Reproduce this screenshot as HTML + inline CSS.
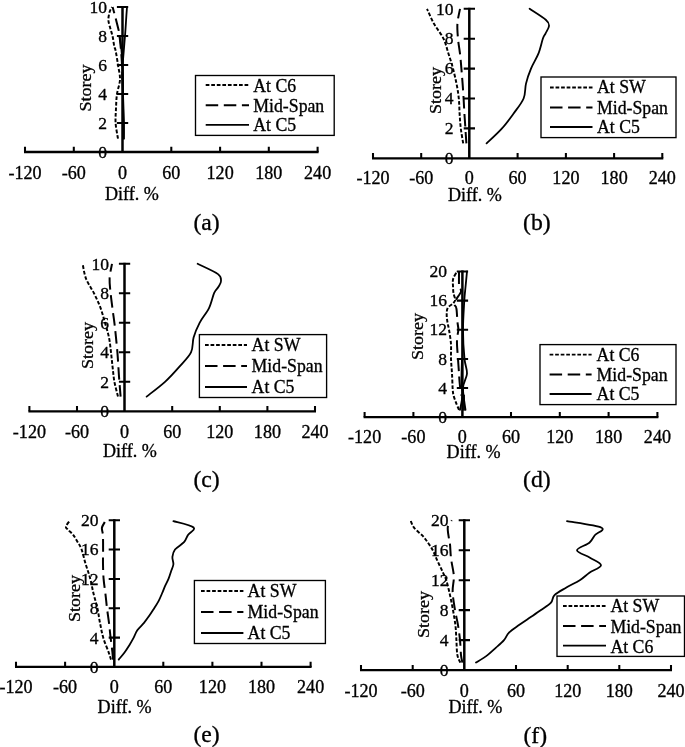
<!DOCTYPE html>
<html lang="en"><head><meta charset="utf-8"><title>Figure</title>
<style>html,body{margin:0;padding:0;background:#fff;}svg{display:block;}text{font-family:'Liberation Serif', serif;fill:#000;stroke:#000;stroke-width:0.32px;}</style></head><body>
<svg width="685" height="747" viewBox="0 0 685 747">
<rect width="685" height="747" fill="#fff"/>
<g>
<path d="M118.0 138.7 C117.6 136.1 115.9 128.0 115.6 123.0 C115.3 118.0 115.8 113.3 116.0 108.5 C116.2 103.7 116.3 98.8 117.0 94.0 C117.7 89.2 119.8 84.3 120.0 79.5 C120.2 74.7 118.7 69.8 118.0 65.0 C117.3 60.2 116.2 53.6 115.6 50.5 C115.0 47.4 114.7 48.6 114.2 46.2 C113.7 43.7 113.2 39.0 112.5 36.0 C111.8 33.0 110.9 30.7 110.2 28.0 C109.5 25.4 108.5 22.7 108.4 20.1 C108.3 17.4 109.0 14.2 109.6 12.1 C110.2 9.9 111.6 7.8 112.0 7.0" fill="none" stroke="#000" stroke-width="1.95" stroke-dasharray="3.7 1.85"/>
<path d="M112.6 7.0 C112.9 8.0 113.7 11.0 114.2 12.8 C114.7 14.6 114.9 15.2 115.6 18.0 C116.3 20.9 117.9 26.9 118.6 29.9 C119.2 32.9 119.1 32.6 119.5 36.0 C119.9 39.4 120.6 45.7 121.0 50.5 C121.4 55.3 121.8 60.2 122.0 65.0 C122.2 69.8 122.4 77.1 122.5 79.5" fill="none" stroke="#000" stroke-width="2" stroke-dasharray="12.5 5.6" stroke-dashoffset="6.1"/>
<path d="M124.0 138.7 C124.0 136.1 124.1 128.0 124.0 123.0 C123.9 118.0 123.7 113.3 123.5 108.5 C123.3 103.7 123.2 98.8 123.0 94.0 C122.8 89.2 122.5 84.3 122.5 79.5 C122.5 74.7 122.5 69.8 122.7 65.0 C122.9 60.2 123.4 55.3 123.8 50.5 C124.2 45.7 124.6 40.8 125.0 36.0 C125.4 31.2 125.7 26.3 126.0 21.5 C126.3 16.7 126.8 9.4 127.0 7.0" fill="none" stroke="#000" stroke-width="1.8" stroke-linecap="round"/>
<path d="M123.0 138.7 C123.0 128.8 123.2 94.2 123.0 79.5 C122.8 64.8 122.1 57.8 121.5 50.5 C120.9 43.2 119.9 38.4 119.6 36.0" fill="none" stroke="#000" stroke-width="1.8" stroke-linecap="round"/>
<path d="M24.0 152.0H318.6" stroke="#000" stroke-width="2.3" fill="none"/>
<path d="M25.0 152.0V146.8M73.8 152.0V146.8M171.3 152.0V146.8M220.1 152.0V146.8M268.8 152.0V146.8M317.6 152.0V146.8" stroke="#000" stroke-width="2.05" fill="none"/>
<path d="M122.5 152.0V6.0" stroke="#000" stroke-width="2.5" fill="none"/>
<path d="M116.9 123.0H128.2M116.9 94.0H128.2M116.9 65.0H128.2M116.9 36.0H128.2M116.9 7.0H128.2" stroke="#000" stroke-width="2.05" fill="none"/>
<text transform="translate(25.0 179.3) scale(1 1.030)" font-size="18.10" text-anchor="middle">-120</text>
<text transform="translate(73.8 179.3) scale(1 1.030)" font-size="18.10" text-anchor="middle">-60</text>
<text transform="translate(122.5 179.3) scale(1 1.030)" font-size="18.10" text-anchor="middle">0</text>
<text transform="translate(171.3 179.3) scale(1 1.030)" font-size="18.10" text-anchor="middle">60</text>
<text transform="translate(220.1 179.3) scale(1 1.030)" font-size="18.10" text-anchor="middle">120</text>
<text transform="translate(268.8 179.3) scale(1 1.030)" font-size="18.10" text-anchor="middle">180</text>
<text transform="translate(317.6 179.3) scale(1 1.030)" font-size="18.10" text-anchor="middle">240</text>
<text transform="translate(105.0 200.2) scale(1 1.040)" font-size="18.10">Diff. %</text>
<text transform="translate(107.0 157.7) scale(1 0.980)" font-size="17.60" text-anchor="end">0</text>
<text transform="translate(107.0 128.7) scale(1 0.980)" font-size="17.60" text-anchor="end">2</text>
<text transform="translate(107.0 99.7) scale(1 0.980)" font-size="17.60" text-anchor="end">4</text>
<text transform="translate(107.0 70.7) scale(1 0.980)" font-size="17.60" text-anchor="end">6</text>
<text transform="translate(107.0 41.7) scale(1 0.980)" font-size="17.60" text-anchor="end">8</text>
<text transform="translate(107.0 12.7) scale(1 0.980)" font-size="17.60" text-anchor="end">10</text>
<text transform="translate(90.5 88.0) rotate(-90) scale(1 0.920)" font-size="18.10" text-anchor="middle">Storey</text>
<rect x="195.5" y="75.5" width="138.7" height="59.9" fill="#fff" stroke="#000" stroke-width="1.35"/>
<path d="M205.7 85.0H249.0" stroke="#000" fill="none" stroke-width="1.95" stroke-dasharray="3.7 1.85"/>
<text transform="translate(253.3 91.9) scale(1 1.030)" font-size="17.75">At C6</text>
<path d="M205.7 105.2H249.0" stroke="#000" fill="none" stroke-width="2" stroke-dasharray="12.5 5.6"/>
<text transform="translate(253.3 111.7) scale(1 1.030)" font-size="17.75">Mid-Span</text>
<path d="M205.7 124.8H249.0" stroke="#000" fill="none" stroke-width="1.8"/>
<text transform="translate(253.3 131.2) scale(1 1.030)" font-size="17.75">At C5</text>
<text transform="translate(193.4 229.8) scale(1 0.970)" font-size="23.70">(a)</text>
</g>
<g>
<path d="M463.2 143.4 C462.8 140.9 461.4 133.4 460.8 128.4 C460.2 123.4 459.9 118.4 459.6 113.5 C459.3 108.5 459.3 103.5 458.8 98.5 C458.3 93.5 457.5 88.5 456.5 83.6 C455.5 78.6 454.3 73.6 453.0 68.6 C451.7 63.6 450.1 58.6 448.5 53.7 C446.9 48.7 445.9 43.7 443.5 38.7 C441.1 33.7 436.8 28.7 434.0 23.8 C431.2 18.8 428.2 11.3 427.0 8.8" fill="none" stroke="#000" stroke-width="1.95" stroke-dasharray="3.7 1.85"/>
<path d="M460.0 8.8 C459.6 11.3 457.7 18.8 457.4 23.8 C457.1 28.7 457.6 33.7 458.0 38.7 C458.4 43.7 459.4 48.7 460.0 53.7 C460.6 58.6 461.0 63.6 461.4 68.6 C461.8 73.6 462.2 78.6 462.6 83.6 C463.0 88.5 463.3 93.5 463.6 98.5 C463.9 103.5 464.1 108.5 464.4 113.5 C464.7 118.4 465.1 123.4 465.4 128.4 C465.7 133.4 466.2 140.9 466.4 143.4" fill="none" stroke="#000" stroke-width="2" stroke-dasharray="12.5 5.6" stroke-dashoffset="2.8"/>
<path d="M486.6 143.4 C489.2 140.9 497.5 133.4 502.0 128.4 C506.5 123.4 510.0 118.4 513.6 113.5 C517.2 108.5 521.5 103.5 523.6 98.5 C525.7 93.5 524.8 88.5 526.0 83.6 C527.2 78.6 528.9 73.6 531.0 68.6 C533.1 63.6 536.4 58.7 538.4 53.7 C540.4 48.6 541.8 41.6 543.0 38.3 C544.2 34.9 544.6 35.4 545.6 33.3 C546.6 31.3 548.9 28.2 549.0 26.0 C549.1 23.8 549.2 22.9 546.0 20.0 C542.8 17.1 532.3 10.7 529.6 8.8" fill="none" stroke="#000" stroke-width="1.8" stroke-linecap="round"/>
<path d="M372.0 158.3H663.3" stroke="#000" stroke-width="2.3" fill="none"/>
<path d="M373.0 158.3V153.1M421.2 158.3V153.1M517.6 158.3V153.1M565.9 158.3V153.1M614.1 158.3V153.1M662.3 158.3V153.1" stroke="#000" stroke-width="2.05" fill="none"/>
<path d="M469.3 158.3V7.8" stroke="#000" stroke-width="2.5" fill="none"/>
<path d="M463.7 128.4H475.0M463.7 98.5H475.0M463.7 68.6H475.0M463.7 38.7H475.0M463.7 8.8H475.0" stroke="#000" stroke-width="2.05" fill="none"/>
<text transform="translate(373.0 184.3) scale(1 1.030)" font-size="18.10" text-anchor="middle">-120</text>
<text transform="translate(421.2 184.3) scale(1 1.030)" font-size="18.10" text-anchor="middle">-60</text>
<text transform="translate(469.4 184.3) scale(1 1.030)" font-size="18.10" text-anchor="middle">0</text>
<text transform="translate(517.6 184.3) scale(1 1.030)" font-size="18.10" text-anchor="middle">60</text>
<text transform="translate(565.9 184.3) scale(1 1.030)" font-size="18.10" text-anchor="middle">120</text>
<text transform="translate(614.1 184.3) scale(1 1.030)" font-size="18.10" text-anchor="middle">180</text>
<text transform="translate(662.3 184.3) scale(1 1.030)" font-size="18.10" text-anchor="middle">240</text>
<text transform="translate(448.0 200.8) scale(1 1.040)" font-size="18.10">Diff. %</text>
<text transform="translate(453.6 164.0) scale(1 0.980)" font-size="17.60" text-anchor="end">0</text>
<text transform="translate(453.6 134.1) scale(1 0.980)" font-size="17.60" text-anchor="end">2</text>
<text transform="translate(453.6 104.2) scale(1 0.980)" font-size="17.60" text-anchor="end">4</text>
<text transform="translate(453.6 74.3) scale(1 0.980)" font-size="17.60" text-anchor="end">6</text>
<text transform="translate(453.6 44.4) scale(1 0.980)" font-size="17.60" text-anchor="end">8</text>
<text transform="translate(453.6 14.5) scale(1 0.980)" font-size="17.60" text-anchor="end">10</text>
<text transform="translate(441.0 90.5) rotate(-90) scale(1 0.920)" font-size="18.10" text-anchor="middle">Storey</text>
<rect x="541.0" y="77.0" width="135.0" height="60.6" fill="#fff" stroke="#000" stroke-width="1.35"/>
<path d="M550.0 87.4H592.5" stroke="#000" fill="none" stroke-width="1.95" stroke-dasharray="3.7 1.85"/>
<text transform="translate(597.0 93.1) scale(1 1.030)" font-size="17.75">At SW</text>
<path d="M550.0 107.4H592.5" stroke="#000" fill="none" stroke-width="2" stroke-dasharray="12.5 5.6"/>
<text transform="translate(597.0 113.5) scale(1 1.030)" font-size="17.75">Mid-Span</text>
<path d="M550.0 127.0H592.5" stroke="#000" fill="none" stroke-width="1.8"/>
<text transform="translate(597.0 133.1) scale(1 1.030)" font-size="17.75">At C5</text>
<text transform="translate(523.0 229.8) scale(1 0.970)" font-size="23.70">(b)</text>
</g>
<g>
<path d="M118.0 396.6 C117.4 394.1 115.3 386.7 114.4 381.8 C113.5 376.9 113.2 372.0 112.6 367.1 C112.0 362.1 111.6 357.2 111.0 352.3 C110.4 347.4 110.0 342.5 109.0 337.6 C108.0 332.6 106.4 327.7 105.0 322.8 C103.6 317.9 102.4 313.0 100.6 308.1 C98.8 303.1 96.4 298.2 94.0 293.3 C91.6 288.4 87.9 283.5 86.0 278.6 C84.1 273.6 83.2 266.3 82.6 263.8" fill="none" stroke="#000" stroke-width="1.95" stroke-dasharray="3.7 1.85"/>
<path d="M112.0 263.8 C111.6 266.3 109.8 273.6 109.6 278.6 C109.4 283.5 110.1 288.4 110.6 293.3 C111.1 298.2 111.8 303.1 112.4 308.1 C113.0 313.0 113.8 317.9 114.4 322.8 C115.0 327.7 115.5 332.6 116.0 337.6 C116.5 342.5 117.0 347.4 117.4 352.3 C117.8 357.2 118.1 362.1 118.4 367.1 C118.7 372.0 119.0 376.9 119.4 381.8 C119.8 386.7 120.4 394.1 120.6 396.6" fill="none" stroke="#000" stroke-width="2" stroke-dasharray="12.5 5.6" stroke-dashoffset="4.5"/>
<path d="M146.6 396.6 C149.7 394.1 159.6 386.7 165.0 381.8 C170.4 376.9 174.7 372.0 179.0 367.1 C183.3 362.1 188.6 357.2 191.0 352.3 C193.4 347.4 192.2 342.5 193.6 337.6 C195.0 332.6 197.0 327.7 199.6 322.8 C202.2 317.9 206.6 313.0 209.0 308.1 C211.4 303.1 212.6 296.4 214.2 292.9 C215.8 289.3 217.2 288.9 218.3 287.0 C219.4 285.0 221.1 283.2 221.0 281.1 C220.9 278.9 221.9 277.0 218.0 274.1 C214.1 271.2 201.0 265.5 197.6 263.8" fill="none" stroke="#000" stroke-width="1.8" stroke-linecap="round"/>
<path d="M28.4 411.3H316.0" stroke="#000" stroke-width="2.3" fill="none"/>
<path d="M29.4 411.3V406.1M77.0 411.3V406.1M172.2 411.3V406.1M219.8 411.3V406.1M267.4 411.3V406.1M315.0 411.3V406.1" stroke="#000" stroke-width="2.05" fill="none"/>
<path d="M124.5 411.3V262.8" stroke="#000" stroke-width="2.5" fill="none"/>
<path d="M118.9 381.8H130.2M118.9 352.3H130.2M118.9 322.8H130.2M118.9 293.3H130.2M118.9 263.8H130.2" stroke="#000" stroke-width="2.05" fill="none"/>
<text transform="translate(29.4 437.9) scale(1 1.030)" font-size="18.10" text-anchor="middle">-120</text>
<text transform="translate(77.0 437.9) scale(1 1.030)" font-size="18.10" text-anchor="middle">-60</text>
<text transform="translate(124.6 437.9) scale(1 1.030)" font-size="18.10" text-anchor="middle">0</text>
<text transform="translate(172.2 437.9) scale(1 1.030)" font-size="18.10" text-anchor="middle">60</text>
<text transform="translate(219.8 437.9) scale(1 1.030)" font-size="18.10" text-anchor="middle">120</text>
<text transform="translate(267.4 437.9) scale(1 1.030)" font-size="18.10" text-anchor="middle">180</text>
<text transform="translate(315.0 437.9) scale(1 1.030)" font-size="18.10" text-anchor="middle">240</text>
<text transform="translate(103.0 456.8) scale(1 1.040)" font-size="18.10">Diff. %</text>
<text transform="translate(109.0 417.0) scale(1 0.980)" font-size="17.60" text-anchor="end">0</text>
<text transform="translate(109.0 387.5) scale(1 0.980)" font-size="17.60" text-anchor="end">2</text>
<text transform="translate(109.0 358.0) scale(1 0.980)" font-size="17.60" text-anchor="end">4</text>
<text transform="translate(109.0 328.5) scale(1 0.980)" font-size="17.60" text-anchor="end">6</text>
<text transform="translate(109.0 299.0) scale(1 0.980)" font-size="17.60" text-anchor="end">8</text>
<text transform="translate(109.0 269.5) scale(1 0.980)" font-size="17.60" text-anchor="end">10</text>
<text transform="translate(93.0 345.5) rotate(-90) scale(1 0.920)" font-size="18.10" text-anchor="middle">Storey</text>
<rect x="199.4" y="334.6" width="127.2" height="62.9" fill="#fff" stroke="#000" stroke-width="1.35"/>
<path d="M205.0 345.0H247.0" stroke="#000" fill="none" stroke-width="1.95" stroke-dasharray="3.7 1.85"/>
<text transform="translate(251.6 350.5) scale(1 1.030)" font-size="17.75">At SW</text>
<path d="M205.0 366.0H247.0" stroke="#000" fill="none" stroke-width="2" stroke-dasharray="12.5 5.6"/>
<text transform="translate(251.6 371.9) scale(1 1.030)" font-size="17.75">Mid-Span</text>
<path d="M205.0 387.0H247.0" stroke="#000" fill="none" stroke-width="1.8"/>
<text transform="translate(251.6 392.9) scale(1 1.030)" font-size="17.75">At C5</text>
<text transform="translate(193.4 486.8) scale(1 0.970)" font-size="23.70">(c)</text>
</g>
<g>
<path d="M459.0 409.9 C458.5 408.7 456.9 405.1 456.0 402.6 C455.1 400.2 454.1 397.8 453.5 395.3 C452.9 392.9 452.9 391.7 452.6 388.0 C452.4 384.4 452.3 378.3 452.0 373.5 C451.7 368.6 451.2 363.7 451.0 358.9 C450.8 354.0 451.3 349.2 451.0 344.3 C450.7 339.4 449.6 333.4 449.0 329.7 C448.4 326.1 447.9 324.9 447.5 322.4 C447.1 320.0 446.7 317.6 446.7 315.1 C446.7 312.7 446.6 309.8 447.7 307.9 C448.8 305.9 451.8 304.8 453.0 303.5 C454.2 302.1 455.1 301.5 455.2 299.8 C455.3 298.1 453.9 295.6 453.5 293.3 C453.1 291.0 453.1 288.4 453.0 286.0 C452.9 283.6 452.5 281.1 453.2 278.7 C453.9 276.3 456.4 272.6 457.0 271.4" fill="none" stroke="#000" stroke-width="1.95" stroke-dasharray="3.7 1.85"/>
<path d="M459.0 271.4 C459.0 273.8 458.9 283.2 459.0 286.0 C459.1 288.8 459.0 287.2 459.3 288.2 C459.6 289.1 461.8 289.4 461.0 291.8 C460.2 294.2 455.1 300.1 454.3 302.7 C453.5 305.4 455.9 305.8 456.3 307.9 C456.8 309.9 456.8 312.7 457.0 315.1 C457.2 317.6 457.3 320.0 457.5 322.4 C457.7 324.9 458.4 327.3 458.4 329.7 C458.3 332.1 457.4 334.6 457.2 337.0 C457.0 339.4 456.9 340.7 457.0 344.3 C457.1 347.9 457.7 354.0 458.0 358.9 C458.3 363.7 458.8 369.8 459.0 373.5 C459.2 377.1 459.2 377.1 459.5 380.8 C459.8 384.4 460.8 392.9 461.0 395.3" fill="none" stroke="#000" stroke-width="2" stroke-dasharray="12.5 5.6" stroke-dashoffset="0.0"/>
<path d="M465.5 409.9 C465.1 406.3 462.8 394.1 463.0 388.0 C463.2 382.0 466.8 378.3 467.0 373.5 C467.2 368.6 465.2 366.2 464.5 358.9 C463.8 351.6 463.0 339.4 463.0 329.7 C463.0 320.0 463.9 307.9 464.3 300.6 C464.7 293.3 465.2 290.8 465.6 286.0 C466.1 281.1 466.8 273.8 467.0 271.4" fill="none" stroke="#000" stroke-width="1.8" stroke-linecap="round"/>
<path d="M460.0 409.9 C460.4 407.5 462.2 400.2 462.5 395.3 C462.8 390.5 461.6 386.8 461.5 380.8 C461.4 374.7 461.9 362.5 462.0 358.9" fill="none" stroke="#000" stroke-width="1.8" stroke-linecap="round"/>
<path d="M464.0 409.9 C464.0 407.5 464.0 397.8 464.0 395.3" fill="none" stroke="#000" stroke-width="1.8" stroke-linecap="round"/>
<path d="M363.6 417.2H658.4" stroke="#000" stroke-width="2.3" fill="none"/>
<path d="M364.6 417.2V412.0M413.4 417.2V412.0M511.0 417.2V412.0M559.8 417.2V412.0M608.6 417.2V412.0M657.4 417.2V412.0" stroke="#000" stroke-width="2.05" fill="none"/>
<path d="M462.4 417.2V270.4" stroke="#000" stroke-width="2.5" fill="none"/>
<path d="M456.8 388.0H468.1M456.8 358.9H468.1M456.8 329.7H468.1M456.8 300.6H468.1M456.8 271.4H468.1" stroke="#000" stroke-width="2.05" fill="none"/>
<text transform="translate(364.6 443.3) scale(1 1.030)" font-size="18.10" text-anchor="middle">-120</text>
<text transform="translate(413.4 443.3) scale(1 1.030)" font-size="18.10" text-anchor="middle">-60</text>
<text transform="translate(462.2 443.3) scale(1 1.030)" font-size="18.10" text-anchor="middle">0</text>
<text transform="translate(511.0 443.3) scale(1 1.030)" font-size="18.10" text-anchor="middle">60</text>
<text transform="translate(559.8 443.3) scale(1 1.030)" font-size="18.10" text-anchor="middle">120</text>
<text transform="translate(608.6 443.3) scale(1 1.030)" font-size="18.10" text-anchor="middle">180</text>
<text transform="translate(657.4 443.3) scale(1 1.030)" font-size="18.10" text-anchor="middle">240</text>
<text transform="translate(446.6 458.2) scale(1 1.040)" font-size="18.10">Diff. %</text>
<text transform="translate(447.0 422.9) scale(1 0.980)" font-size="17.60" text-anchor="end">0</text>
<text transform="translate(447.0 393.7) scale(1 0.980)" font-size="17.60" text-anchor="end">4</text>
<text transform="translate(447.0 364.6) scale(1 0.980)" font-size="17.60" text-anchor="end">8</text>
<text transform="translate(447.0 335.4) scale(1 0.980)" font-size="17.60" text-anchor="end">12</text>
<text transform="translate(447.0 306.3) scale(1 0.980)" font-size="17.60" text-anchor="end">16</text>
<text transform="translate(447.0 277.1) scale(1 0.980)" font-size="17.60" text-anchor="end">20</text>
<text transform="translate(423.0 336.5) rotate(-90) scale(1 0.920)" font-size="18.10" text-anchor="middle">Storey</text>
<rect x="540.0" y="344.6" width="136.0" height="60.0" fill="#fff" stroke="#000" stroke-width="1.35"/>
<path d="M549.6 354.6H591.6" stroke="#000" fill="none" stroke-width="1.95" stroke-dasharray="3.7 1.85"/>
<text transform="translate(596.6 360.5) scale(1 1.030)" font-size="17.75">At C6</text>
<path d="M549.6 374.6H591.6" stroke="#000" fill="none" stroke-width="2" stroke-dasharray="12.5 5.6"/>
<text transform="translate(596.6 380.5) scale(1 1.030)" font-size="17.75">Mid-Span</text>
<path d="M549.6 394.0H591.6" stroke="#000" fill="none" stroke-width="1.8"/>
<text transform="translate(596.6 400.1) scale(1 1.030)" font-size="17.75">At C5</text>
<text transform="translate(523.0 486.8) scale(1 0.970)" font-size="23.70">(d)</text>
</g>
<g>
<path d="M111.0 659.6 C110.6 658.3 109.9 655.9 108.6 652.2 C107.3 648.6 104.6 642.4 103.2 637.6 C101.8 632.7 101.0 627.8 100.0 622.9 C99.0 618.0 98.5 613.1 97.4 608.2 C96.3 603.3 94.7 598.4 93.5 593.5 C92.3 588.7 91.6 583.8 90.3 578.9 C89.0 574.0 87.2 569.1 85.7 564.2 C84.2 559.3 82.9 553.2 81.6 549.5 C80.3 545.9 79.1 544.6 77.7 542.2 C76.3 539.8 74.8 536.9 73.2 534.9 C71.6 532.8 69.2 531.1 68.0 529.7 C66.8 528.4 65.7 528.2 65.9 526.8 C66.1 525.4 68.7 522.2 69.3 521.3" fill="none" stroke="#000" stroke-width="1.95" stroke-dasharray="3.7 1.85"/>
<path d="M104.8 522.0 C104.3 523.0 102.2 525.8 101.9 527.9 C101.6 530.0 102.7 531.3 102.9 534.9 C103.1 538.5 103.1 544.6 103.1 549.5 C103.1 554.4 102.9 559.3 103.0 564.2 C103.1 569.1 103.2 574.0 103.6 578.9 C104.0 583.8 104.8 588.7 105.4 593.5 C106.0 598.4 106.4 603.3 107.0 608.2 C107.6 613.1 108.4 618.0 109.0 622.9 C109.6 627.8 110.0 632.7 110.6 637.6 C111.2 642.4 112.0 648.6 112.4 652.2 C112.8 655.9 112.9 658.3 113.0 659.6" fill="none" stroke="#000" stroke-width="2" stroke-dasharray="12.5 5.6" stroke-dashoffset="0.0"/>
<path d="M118.7 659.6 C119.7 658.3 122.9 654.7 124.7 652.2 C126.5 649.8 128.0 647.3 129.5 644.9 C131.0 642.4 132.4 640.0 133.7 637.6 C135.0 635.1 135.6 632.7 137.3 630.2 C139.0 627.8 142.0 625.3 144.0 622.9 C146.0 620.4 147.7 618.0 149.4 615.6 C151.1 613.1 152.6 610.7 154.2 608.2 C155.8 605.8 157.4 603.3 158.7 600.9 C160.0 598.4 160.9 596.0 162.0 593.5 C163.1 591.1 163.9 588.7 165.0 586.2 C166.1 583.8 167.5 581.3 168.5 578.9 C169.5 576.4 170.2 574.0 171.0 571.5 C171.8 569.1 173.2 566.7 173.4 564.2 C173.6 561.8 172.1 559.3 172.4 556.9 C172.7 554.4 173.1 552.0 175.0 549.5 C176.9 547.1 181.8 544.6 184.0 542.2 C186.2 539.8 186.4 537.3 188.0 534.9 C189.6 532.4 196.0 529.8 193.6 527.5 C191.2 525.2 176.8 522.2 173.4 521.2" fill="none" stroke="#000" stroke-width="1.8" stroke-linecap="round"/>
<path d="M15.0 666.9H311.6" stroke="#000" stroke-width="2.3" fill="none"/>
<path d="M16.0 666.9V661.7M65.1 666.9V661.7M163.3 666.9V661.7M212.4 666.9V661.7M261.5 666.9V661.7M310.6 666.9V661.7" stroke="#000" stroke-width="2.05" fill="none"/>
<path d="M114.3 666.9V519.2" stroke="#000" stroke-width="2.5" fill="none"/>
<path d="M108.7 637.6H120.0M108.7 608.2H120.0M108.7 578.9H120.0M108.7 549.5H120.0M108.7 520.2H120.0" stroke="#000" stroke-width="2.05" fill="none"/>
<text transform="translate(16.0 692.9) scale(1 1.030)" font-size="18.10" text-anchor="middle">-120</text>
<text transform="translate(65.1 692.9) scale(1 1.030)" font-size="18.10" text-anchor="middle">-60</text>
<text transform="translate(114.2 692.9) scale(1 1.030)" font-size="18.10" text-anchor="middle">0</text>
<text transform="translate(163.3 692.9) scale(1 1.030)" font-size="18.10" text-anchor="middle">60</text>
<text transform="translate(212.4 692.9) scale(1 1.030)" font-size="18.10" text-anchor="middle">120</text>
<text transform="translate(261.5 692.9) scale(1 1.030)" font-size="18.10" text-anchor="middle">180</text>
<text transform="translate(310.6 692.9) scale(1 1.030)" font-size="18.10" text-anchor="middle">240</text>
<text transform="translate(97.6 712.8) scale(1 1.040)" font-size="18.10">Diff. %</text>
<text transform="translate(98.6 672.8) scale(1 0.980)" font-size="17.60" text-anchor="end">0</text>
<text transform="translate(98.6 643.5) scale(1 0.980)" font-size="17.60" text-anchor="end">4</text>
<text transform="translate(98.6 614.1) scale(1 0.980)" font-size="17.60" text-anchor="end">8</text>
<text transform="translate(98.6 584.8) scale(1 0.980)" font-size="17.60" text-anchor="end">12</text>
<text transform="translate(98.6 555.4) scale(1 0.980)" font-size="17.60" text-anchor="end">16</text>
<text transform="translate(98.6 526.1) scale(1 0.980)" font-size="17.60" text-anchor="end">20</text>
<text transform="translate(79.5 598.5) rotate(-90) scale(1 0.920)" font-size="18.10" text-anchor="middle">Storey</text>
<rect x="194.4" y="580.5" width="131.0" height="63.0" fill="#fff" stroke="#000" stroke-width="1.35"/>
<path d="M201.0 591.0H243.4" stroke="#000" fill="none" stroke-width="1.95" stroke-dasharray="3.7 1.85"/>
<text transform="translate(247.6 596.9) scale(1 1.030)" font-size="17.75">At SW</text>
<path d="M201.0 612.0H243.4" stroke="#000" fill="none" stroke-width="2" stroke-dasharray="12.5 5.6"/>
<text transform="translate(247.6 617.9) scale(1 1.030)" font-size="17.75">Mid-Span</text>
<path d="M201.0 633.0H243.4" stroke="#000" fill="none" stroke-width="1.8"/>
<text transform="translate(247.6 638.5) scale(1 1.030)" font-size="17.75">At C5</text>
<text transform="translate(193.4 741.8) scale(1 0.970)" font-size="23.70">(e)</text>
</g>
<g>
<path d="M460.4 662.6 C459.9 661.4 458.1 658.9 457.4 655.1 C456.7 651.4 456.7 645.1 456.4 640.1 C456.1 635.1 456.0 630.1 455.4 625.1 C454.8 620.1 453.9 615.1 453.0 610.1 C452.1 605.1 451.1 600.1 450.0 595.1 C448.9 590.2 447.5 583.9 446.3 580.2 C445.1 576.4 444.1 575.2 443.0 572.7 C441.9 570.2 440.7 567.7 439.5 565.2 C438.3 562.7 437.1 560.2 436.0 557.7 C434.9 555.2 434.1 552.7 432.8 550.2 C431.5 547.7 429.8 545.2 428.0 542.7 C426.2 540.2 424.3 537.7 422.0 535.2 C419.7 532.7 415.9 530.2 414.0 527.7 C412.1 525.2 411.0 521.4 410.4 520.2" fill="none" stroke="#000" stroke-width="1.95" stroke-dasharray="3.7 1.85"/>
<path d="M451.8 520.2 C451.1 521.3 448.3 523.9 447.8 526.9 C447.3 529.9 448.5 535.3 448.9 538.2 C449.3 541.1 449.7 541.2 450.0 544.2 C450.3 547.2 450.5 553.2 450.8 556.2 C451.1 559.2 451.1 559.2 451.6 562.2 C452.1 565.2 453.4 571.2 453.7 574.2 C454.0 577.2 453.9 577.2 453.7 580.2 C453.5 583.2 452.4 587.2 452.6 592.2 C452.8 597.1 454.1 604.6 455.0 610.1 C455.9 615.6 457.2 620.1 458.0 625.1 C458.8 630.1 459.5 635.1 460.0 640.1 C460.5 645.1 460.6 651.4 461.0 655.1 C461.4 658.9 462.2 661.4 462.4 662.6" fill="none" stroke="#000" stroke-width="2" stroke-dasharray="12.5 5.6" stroke-dashoffset="11.3"/>
<path d="M476.0 662.6 C477.9 661.4 484.2 657.6 487.5 655.1 C490.8 652.6 493.2 650.1 496.0 647.6 C498.8 645.1 501.8 642.6 504.0 640.1 C506.2 637.6 506.5 635.1 509.0 632.6 C511.5 630.1 515.5 627.6 519.0 625.1 C522.5 622.6 526.3 620.1 530.0 617.6 C533.7 615.1 537.5 612.6 541.0 610.1 C544.5 607.6 548.8 605.1 551.0 602.6 C553.2 600.1 552.0 597.6 554.5 595.1 C557.0 592.7 561.8 590.2 566.0 587.7 C570.2 585.2 575.9 582.7 579.8 580.2 C583.7 577.7 585.9 575.2 589.4 572.7 C592.9 570.2 600.9 567.7 601.0 565.2 C601.1 562.7 594.0 560.2 590.0 557.7 C586.0 555.2 577.1 552.7 577.0 550.2 C576.9 547.7 586.4 545.2 589.4 542.7 C592.4 540.2 592.8 537.7 594.8 535.2 C596.8 532.7 606.1 530.0 601.5 527.7 C596.9 525.4 572.8 522.3 567.0 521.2" fill="none" stroke="#000" stroke-width="1.8" stroke-linecap="round"/>
<path d="M360.0 670.1H672.0" stroke="#000" stroke-width="2.3" fill="none"/>
<path d="M361.0 670.1V664.9M412.7 670.1V664.9M516.0 670.1V664.9M567.7 670.1V664.9M619.3 670.1V664.9M671.0 670.1V664.9" stroke="#000" stroke-width="2.05" fill="none"/>
<path d="M464.3 670.1V519.2" stroke="#000" stroke-width="2.5" fill="none"/>
<path d="M458.7 640.1H470.0M458.7 610.1H470.0M458.7 580.2H470.0M458.7 550.2H470.0M458.7 520.2H470.0" stroke="#000" stroke-width="2.05" fill="none"/>
<text transform="translate(361.0 696.9) scale(1 1.030)" font-size="18.10" text-anchor="middle">-120</text>
<text transform="translate(412.7 696.9) scale(1 1.030)" font-size="18.10" text-anchor="middle">-60</text>
<text transform="translate(464.3 696.9) scale(1 1.030)" font-size="18.10" text-anchor="middle">0</text>
<text transform="translate(516.0 696.9) scale(1 1.030)" font-size="18.10" text-anchor="middle">60</text>
<text transform="translate(567.7 696.9) scale(1 1.030)" font-size="18.10" text-anchor="middle">120</text>
<text transform="translate(619.3 696.9) scale(1 1.030)" font-size="18.10" text-anchor="middle">180</text>
<text transform="translate(671.0 696.9) scale(1 1.030)" font-size="18.10" text-anchor="middle">240</text>
<text transform="translate(448.4 712.8) scale(1 1.040)" font-size="18.10">Diff. %</text>
<text transform="translate(448.6 675.8) scale(1 0.980)" font-size="17.60" text-anchor="end">0</text>
<text transform="translate(448.6 645.8) scale(1 0.980)" font-size="17.60" text-anchor="end">4</text>
<text transform="translate(448.6 615.8) scale(1 0.980)" font-size="17.60" text-anchor="end">8</text>
<text transform="translate(448.6 585.9) scale(1 0.980)" font-size="17.60" text-anchor="end">12</text>
<text transform="translate(448.6 555.9) scale(1 0.980)" font-size="17.60" text-anchor="end">16</text>
<text transform="translate(448.6 525.9) scale(1 0.980)" font-size="17.60" text-anchor="end">20</text>
<text transform="translate(428.5 614.5) rotate(-90) scale(1 0.920)" font-size="18.10" text-anchor="middle">Storey</text>
<rect x="557.0" y="596.0" width="127.5" height="60.4" fill="#fff" stroke="#000" stroke-width="1.35"/>
<path d="M563.0 606.0H606.0" stroke="#000" fill="none" stroke-width="1.95" stroke-dasharray="3.7 1.85"/>
<text transform="translate(610.4 611.9) scale(1 1.030)" font-size="17.75">At SW</text>
<path d="M563.0 626.0H606.0" stroke="#000" fill="none" stroke-width="2" stroke-dasharray="12.5 5.6"/>
<text transform="translate(610.4 632.5) scale(1 1.030)" font-size="17.75">Mid-Span</text>
<path d="M563.0 645.7H606.0" stroke="#000" fill="none" stroke-width="1.8"/>
<text transform="translate(610.4 652.5) scale(1 1.030)" font-size="17.75">At C6</text>
<text transform="translate(523.4 742.8) scale(1 0.970)" font-size="23.70">(f)</text>
</g>
</svg></body></html>
